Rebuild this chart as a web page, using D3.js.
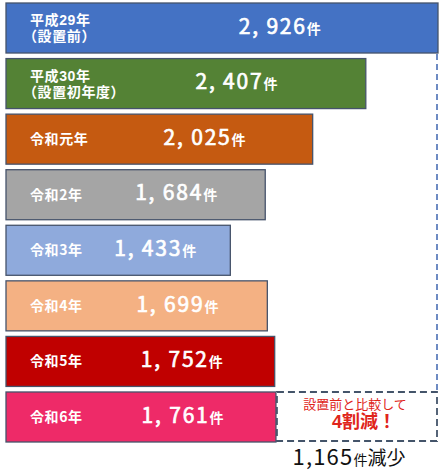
<!DOCTYPE html>
<html><head><meta charset="utf-8">
<script src="https://cdn.jsdelivr.net/npm/d3@7"></script>
<style>
html,body{margin:0;padding:0;background:#fff;}
svg{display:block;font-family:"Noto Sans CJK JP","Noto Sans",sans-serif;}
.tight{font-family:"Liberation Sans","Noto Sans CJK JP",sans-serif;}
</style></head>
<body>
<svg id="chart" width="439" height="471"></svg>
<script>
const categories = [["平成29年","（設置前）"],["平成30年","（設置初年度）"],["令和元年"],["令和2年"],["令和3年"],["令和4年"],["令和5年"],["令和6年"]];
const values = [2926, 2407, 2025, 1684, 1433, 1699, 1752, 1761];
const colors = ["#4472C4","#548235","#C55A11","#A5A5A5","#8FAADC","#F4B183","#C00000","#EE2A68"];
const unit = "件";
const noteLine1 = "設置前と比較して";
const noteLine2 = "4割減！";
const diffSuffix = "減少";

const svg = d3.select("#chart");
const keys = categories.map(c => c.join(""));

const y = d3.scaleBand().domain(keys).range([3, 442]).paddingInner(0.1).paddingOuter(0);
const x = d3.scaleLinear().domain([0, d3.max(values)]).range([31, 438]);
const x0 = 6;

const rows = svg.append("g").selectAll("g.row")
  .data(values.map((v,i)=>({v, i, key:keys[i], lines:categories[i], color:colors[i]})))
  .enter().append("g").attr("class","row");

rows.append("rect")
  .attr("x", x0)
  .attr("y", d => y(d.key))
  .attr("width", d => x(d.v) - x0)
  .attr("height", y.bandwidth())
  .attr("fill", d => d.color)
  .attr("stroke", "#46536B")
  .attr("stroke-width", 1.3);

// category labels
const lineGap = 15.8;
const catFs = 14;
rows.each(function(d){
  const sel = d3.select(this);
  const cy = y(d.key) + y.bandwidth()/2;
  const n = d.lines.length;
  d.lines.forEach((s, j) => {
    sel.append("text")
      .attr("class", n > 1 ? "tight" : null)
      .attr("x", s.startsWith("（") ? 23 : 30)
      .attr("y", cy + (j - (n-1)/2) * lineGap + 0.36 * catFs)
      .attr("fill", "#fff")
      .attr("font-size", catFs)
      .attr("letter-spacing", 0.6)
      .attr("font-weight", "bold")
      .text(s);
  });
});

// value labels
const fmt = d3.format(",");
rows.append("text")
  .attr("x", d => 0.6 * x(d.v) + 17)
  .attr("y", d => y(d.key) + y.bandwidth()/2)
  .attr("dy", "0.36em")
  .attr("text-anchor", "middle")
  .attr("fill", "#fff")
  .each(function(d){
    const t = d3.select(this);
    t.append("tspan").attr("font-size", 21).attr("stroke", "#fff").attr("stroke-width", 0.7)
      .attr("letter-spacing", 1.8)
      .text(fmt(d.v).replace(",", ", "));
    t.append("tspan").attr("font-size", 14).attr("font-weight", "bold").text(unit);
  });

// dashed annotation
const last = values.length - 1;
const boxTop = y(keys[last]);
const boxBot = boxTop + y.bandwidth() - 1;
const boxL = x(values[last]) + 1;
const boxR = 437;

svg.append("line")
  .attr("x1", boxR).attr("x2", boxR)
  .attr("y1", y(keys[0]) + y.bandwidth() + 1).attr("y2", boxTop)
  .attr("stroke", "#4A6FB5").attr("stroke-width", 1.6)
  .attr("stroke-dasharray", "6,4");

svg.append("rect")
  .attr("x", boxL).attr("y", boxTop)
  .attr("width", boxR - boxL).attr("height", boxBot - boxTop)
  .attr("fill", "none")
  .attr("stroke", "#44546A").attr("stroke-width", 1.8)
  .attr("stroke-dasharray", "7,4");

const bx = (boxL + boxR) / 2;
svg.append("text")
  .attr("class", "tight")
  .attr("x", bx - 2).attr("y", boxTop + 12 + 0.36 * 13)
  .attr("text-anchor", "middle")
  .attr("fill", "#E0251B")
  .attr("font-size", 13)
  .text(noteLine1);
svg.append("text")
  .attr("class", "tight")
  .attr("x", bx + 7).attr("y", boxTop + 30 + 0.36 * 18)
  .attr("text-anchor", "middle")
  .attr("fill", "#E0251B")
  .attr("font-size", 18)
  .attr("font-weight", "bold")
  .text(noteLine2);

const diff = values[0] - values[last];
const dt = svg.append("text")
  .attr("x", bx - 8).attr("y", 465)
  .attr("text-anchor", "middle")
  .attr("fill", "#111");
dt.append("tspan").attr("font-size", 22).attr("letter-spacing", 1.2).text(fmt(diff));
dt.append("tspan").attr("font-size", 14).text(unit);
dt.append("tspan").attr("font-size", 19).text(diffSuffix);
</script>
</body></html>
